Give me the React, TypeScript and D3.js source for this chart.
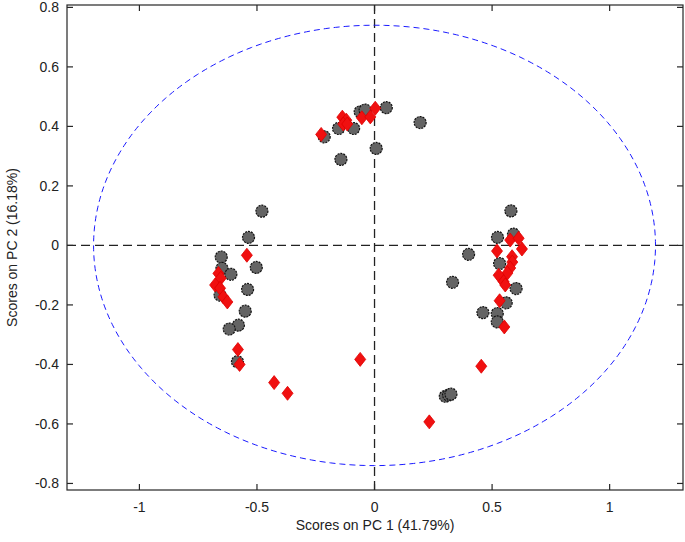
import * as d3 from 'd3';

// PCA scores
const grayX = [-0.214, -0.153, -0.089, -0.061, -0.040, 0.050, 0.194, 0.007, -0.143,
  -0.479, -0.536, -0.652, -0.503, -0.649, -0.611, -0.657, -0.540, -0.550, -0.579, -0.618, -0.583,
  0.580, 0.523, 0.591, 0.400, 0.532, 0.332, 0.602, 0.560, 0.461, 0.522, 0.522,
  0.301, 0.315, 0.325];
const grayY = [0.365, 0.393, 0.393, 0.449, 0.455, 0.463, 0.413, 0.326, 0.289,
  0.115, 0.027, -0.039, -0.074, -0.077, -0.097, -0.167, -0.148, -0.221, -0.268, -0.281, -0.391,
  0.116, 0.027, 0.038, -0.030, -0.061, -0.124, -0.145, -0.193, -0.226, -0.229, -0.257,
  -0.507, -0.503, -0.500];

const redX = [-0.227, -0.137, -0.120, -0.133, -0.116, -0.054, -0.018, 0.003,
  -0.543, -0.664, -0.654, -0.678, -0.657, -0.643, -0.626, -0.581, -0.574, -0.427, -0.370, -0.061,
  0.577, 0.613, 0.627, 0.521, 0.585, 0.586, 0.577, 0.565, 0.528, 0.549, 0.556, 0.532, 0.552,
  0.454, 0.233];
const redY = [0.373, 0.431, 0.421, 0.408, 0.408, 0.429, 0.432, 0.461,
  -0.033, -0.094, -0.110, -0.133, -0.144, -0.173, -0.190, -0.350, -0.400, -0.461, -0.497, -0.383,
  0.018, 0.024, -0.012, -0.019, -0.038, -0.056, -0.076, -0.093, -0.100, -0.122, -0.133, -0.186, -0.274,
  -0.406, -0.593];

const xTicks = [-1, -0.5, 0, 0.5, 1];
const yTicks = [-0.8, -0.6, -0.4, -0.2, 0, 0.2, 0.4, 0.6, 0.8];
const ellipseRadii = [1.195, 0.74];

const width = 685;
const height = 542;
const margin = { top: 5, right: 2, bottom: 52, left: 67 };

export default function App() {
  const x = d3.scaleLinear()
    .domain([-1.308, 1.312])
    .range([margin.left, width - margin.right]);
  const y = d3.scaleLinear()
    .domain([-0.822, 0.808])
    .range([height - margin.bottom, margin.top]);

  const x0 = margin.left, x1 = width - margin.right;
  const y0 = margin.top, y1 = height - margin.bottom;
  const font = '"Liberation Sans", Arial, sans-serif';
  const axisColor = '#262626';

  const ellipse = d3.line<number>()
    .x(t => x(ellipseRadii[0] * Math.cos(t)))
    .y(t => y(ellipseRadii[1] * Math.sin(t)));
  const angles = d3.range(0, 2 * Math.PI + 0.001, Math.PI / 180);

  const fmt = (v: number) => (v === 0 ? '0' : String(v));

  return (
    <svg width={width} height={height} style={{ position: 'absolute', left: 0, top: 0, background: '#fff' }}>
      <rect x={0} y={0} width={width} height={height} fill="#fff" />

      {/* zero lines */}
      <line x1={x(0)} x2={x(0)} y1={y0} y2={y1} stroke="#222" strokeWidth={1.3} strokeDasharray="9,5" />
      <line x1={x0} x2={x1} y1={y(0)} y2={y(0)} stroke="#222" strokeWidth={1.3} strokeDasharray="9,5" />

      {/* confidence ellipse */}
      <path d={ellipse(angles) ?? ''} fill="none" stroke="#1a1aff" strokeWidth={1} strokeDasharray="6,4" />

      {/* gray class */}
      {grayX.map((v, i) => (
        <circle key={'g' + i} cx={x(v)} cy={y(grayY[i])} r={6}
          fill="#646464" stroke="#111" strokeWidth={1.2} strokeDasharray="2,1" />
      ))}

      {/* red class */}
      {redX.map((v, i) => {
        const cx = x(v), cy = y(redY[i]);
        const d = `M${cx},${cy - 7}L${cx + 5.5},${cy}L${cx},${cy + 7}L${cx - 5.5},${cy}Z`;
        return <path key={'r' + i} d={d} fill="#f01010" stroke="#e00000" strokeWidth={0.8} />;
      })}

      {/* box */}
      <rect x={x0} y={y0} width={x1 - x0} height={y1 - y0} fill="none" stroke={axisColor} strokeWidth={1.2} />

      {xTicks.map(t => (
        <g key={'xt' + t}>
          <line x1={x(t)} x2={x(t)} y1={y1} y2={y1 - 6} stroke={axisColor} strokeWidth={1.2} />
          <line x1={x(t)} x2={x(t)} y1={y0} y2={y0 + 6} stroke={axisColor} strokeWidth={1.2} />
          <text x={x(t)} y={y1 + 22} textAnchor="middle" fontFamily={font} fontSize={14} fill="#222">{fmt(t)}</text>
        </g>
      ))}
      {yTicks.map(t => (
        <g key={'yt' + t}>
          <line x1={x0} x2={x0 + 6} y1={y(t)} y2={y(t)} stroke={axisColor} strokeWidth={1.2} />
          <line x1={x1} x2={x1 - 6} y1={y(t)} y2={y(t)} stroke={axisColor} strokeWidth={1.2} />
          <text x={x0 - 8} y={y(t) + 5} textAnchor="end" fontFamily={font} fontSize={14} fill="#222">{fmt(t)}</text>
        </g>
      ))}

      <text x={(x0 + x1) / 2} y={y1 + 40} textAnchor="middle" fontFamily={font} fontSize={14} fill="#222">
        Scores on PC 1 (41.79%)
      </text>
      <text transform={`translate(17,${(y0 + y1) / 2}) rotate(-90)`} textAnchor="middle" fontFamily={font} fontSize={14} fill="#222">
        Scores on PC 2 (16.18%)
      </text>
    </svg>
  );
}
